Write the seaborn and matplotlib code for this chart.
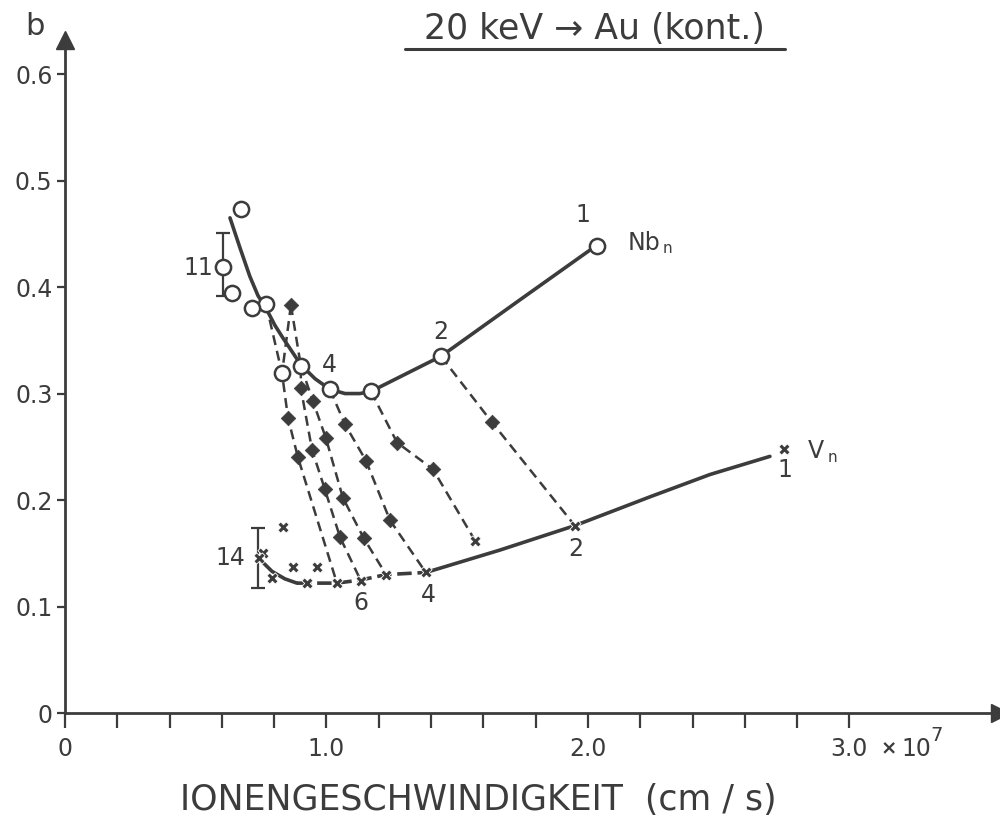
import numpy as np
import pandas as pd
import matplotlib
matplotlib.use("Agg")
import matplotlib.pyplot as plt
import seaborn as sns

# ---------------- data ----------------
# Nb_n open circles
nb_x = [2.034, 1.438, 1.170, 1.013, 0.902, 0.830, 0.769, 0.715, 0.639, 0.604, 0.673]
nb_y = [0.439, 0.335, 0.302, 0.304, 0.326, 0.319, 0.384, 0.380, 0.394, 0.419, 0.473]
# Nb_n smooth curve
nbc_x = [0.631, 0.669, 0.707, 0.738, 0.769, 0.803, 0.834, 0.864, 0.902, 0.956, 1.013,
         1.071, 1.128, 1.170, 1.300, 1.438, 1.740, 2.015]
nbc_y = [0.465, 0.437, 0.410, 0.392, 0.380, 0.364, 0.352, 0.341, 0.327, 0.314, 0.304,
         0.300, 0.300, 0.302, 0.318, 0.335, 0.388, 0.436]

# V_n crosses
v_x = [2.750, 1.950, 1.568, 1.380, 1.228, 1.132, 1.040, 0.925, 0.964, 0.872, 0.834, 0.792, 0.757, 0.742]
v_y = [0.248, 0.176, 0.162, 0.132, 0.130, 0.124, 0.122, 0.122, 0.137, 0.137, 0.175, 0.127, 0.150, 0.146]
# V_n curve pieces
vc1_x = [0.738, 0.792, 0.841, 0.887]
vc1_y = [0.146, 0.133, 0.126, 0.122]
vc2_x = [0.887, 1.040, 1.132, 1.228, 1.380]
vc2_y = [0.122, 0.122, 0.125, 0.130, 0.132]
vc3_x = [1.380, 1.663, 1.950, 2.237, 2.467, 2.696]
vc3_y = [0.132, 0.153, 0.176, 0.203, 0.224, 0.241]

# mixed clusters (diamonds)
mx_x = [0.864, 0.853, 0.891, 0.902, 0.945, 0.994, 1.052, 0.948, 0.998, 1.063, 1.143,
        1.071, 1.151, 1.243, 1.270, 1.407, 1.633]
mx_y = [0.383, 0.277, 0.240, 0.305, 0.247, 0.210, 0.165, 0.293, 0.258, 0.202, 0.164,
        0.271, 0.237, 0.181, 0.254, 0.229, 0.273]

# dashed connection lines
L0_x = [0.864, 0.830]; L0_y = [0.383, 0.319]
L1_x = [0.769, 0.830, 0.853, 0.891, 1.040]; L1_y = [0.384, 0.319, 0.277, 0.240, 0.122]
L2_x = [0.864, 0.902, 0.902, 0.945, 0.994, 1.052, 1.132]; L2_y = [0.383, 0.326, 0.305, 0.247, 0.210, 0.165, 0.124]
L3_x = [0.902, 0.948, 0.998, 1.063, 1.143, 1.228]; L3_y = [0.326, 0.293, 0.258, 0.202, 0.164, 0.130]
L4_x = [1.013, 1.071, 1.151, 1.243, 1.380]; L4_y = [0.304, 0.271, 0.237, 0.181, 0.132]
L5_x = [1.170, 1.270, 1.407, 1.568]; L5_y = [0.302, 0.254, 0.229, 0.162]
L6_x = [1.438, 1.633, 1.950]; L6_y = [0.335, 0.273, 0.176]

# error bars
err_nb = (0.604, 0.419, 0.392, 0.451)
err_v = (0.738, 0.146, 0.117, 0.174)

y_ticks = [0.0, 0.1, 0.2, 0.3, 0.4, 0.5, 0.6]
y_labels = ["0", "0.1", "0.2", "0.3", "0.4", "0.5", "0.6"]
x_ticks = [round(0.2 * i, 1) for i in range(16)]
x_labels = {0.0: "0", 1.0: "1.0", 2.0: "2.0", 3.0: "3.0"}

# ---------------- style ----------------
sns.set_theme(style="white")
FAM = ["DejaVu Sans"]
plt.rcParams["font.family"] = FAM
INK = "#3c3c3c"

fig = plt.figure(figsize=(10, 8.33), dpi=100)
ax = fig.add_axes([0.065, 0.144, 0.935, 0.808])
ax.set_xlim(0, 3.576)
ax.set_ylim(0, 0.632)
ax.set_facecolor("white")

for s in ["top", "right"]:
    ax.spines[s].set_visible(False)
for s in ["left", "bottom"]:
    ax.spines[s].set_color(INK)
    ax.spines[s].set_linewidth(2.0)

def line(xs, ys, dashes=None, lw=2.0):
    sns.lineplot(x=xs, y=ys, sort=False, estimator=None, color=INK, linewidth=lw, ax=ax)
    ln = ax.lines[-1]
    if dashes is not None:
        ln.set_dashes(dashes)
    ln.set_solid_capstyle("round")

# dashed connectors
for xs, ys in [(L0_x, L0_y), (L1_x, L1_y), (L2_x, L2_y), (L3_x, L3_y),
               (L4_x, L4_y), (L5_x, L5_y), (L6_x, L6_y)]:
    line(xs, ys, dashes=(4, 2.4), lw=1.8)

# main curves
line(nbc_x, nbc_y, lw=2.6)
line(vc1_x, vc1_y, lw=2.6)
line(vc2_x, vc2_y, dashes=(4, 1.6), lw=2.6)
line(vc3_x, vc3_y, lw=2.6)

# error bars
for (ex, ey, lo, hi) in [err_nb, err_v]:
    ax.errorbar([ex], [ey], yerr=[[ey - lo], [hi - ey]], fmt="none", ecolor=INK,
                elinewidth=1.6, capsize=5, capthick=1.6)

# markers
sns.scatterplot(x=mx_x, y=mx_y, marker="D", s=55, color=INK, edgecolor=INK, linewidth=0.5, ax=ax, zorder=5)
sns.scatterplot(x=v_x, y=v_y, marker="X", s=65, color=INK, edgecolor="white", linewidth=0.6, ax=ax, zorder=5)
sns.scatterplot(x=nb_x, y=nb_y, marker="o", s=120, facecolor="white", edgecolor=INK, linewidth=1.8, ax=ax, zorder=6)

# ticks
ax.set_xticks(x_ticks)
ax.set_xticklabels([x_labels.get(t, "") for t in x_ticks])
ax.set_yticks(y_ticks)
ax.set_yticklabels(y_labels)
ax.tick_params(axis="x", direction="out", length=11, width=1.6, color=INK, labelsize=17,
               labelcolor=INK, pad=6, bottom=True)
ax.tick_params(axis="y", direction="out", length=6, width=1.6, color=INK, labelsize=17,
               labelcolor=INK, pad=3, left=True)
ax.grid(False)

# axis arrows
ax.plot([1.0], [0], marker=">", markersize=13, color=INK, transform=ax.get_yaxis_transform(), clip_on=False)
ax.plot([0], [1.0], marker="^", markersize=13, color=INK, transform=ax.get_xaxis_transform(), clip_on=False)

# axis labels
ax.text(-0.115, 0.645, "b", fontsize=22, color=INK, ha="center", va="center", clip_on=False)
ax.text(3.15, -0.034, "×", fontsize=14, color=INK, ha="center", va="center", fontweight="bold", clip_on=False)
ax.text(3.20, -0.034, "10", fontsize=17, color=INK, ha="left", va="center", clip_on=False)
ax.text(3.31, -0.021, "7", fontsize=14, color=INK, ha="left", va="center", clip_on=False)
fig.text(0.478, 0.04, "IONENGESCHWINDIGKEIT  (cm / s)", fontsize=25, color=INK, ha="center", va="center")

# title with underline
ax.text(2.025, 0.642, "20 keV \u2192 Au (kont.)", fontsize=25, color=INK, ha="center", va="center", clip_on=False)
ax.plot([1.30, 2.755], [0.624, 0.624], color=INK, linewidth=2.2, clip_on=False)

# annotations
lab = dict(fontsize=17, color=INK, va="center")
ax.text(1.981, 0.468, "1", ha="center", **lab)
ax.text(2.153, 0.441, "Nb", ha="left", **lab)
ax.text(2.285, 0.436, "n", ha="left", fontsize=11, color=INK, va="center")
ax.text(1.438, 0.358, "2", ha="center", **lab)
ax.text(1.013, 0.327, "4", ha="center", **lab)
ax.text(0.566, 0.418, "11", ha="right", **lab)
ax.text(2.841, 0.246, "V", ha="left", **lab)
ax.text(2.915, 0.240, "n", ha="left", fontsize=11, color=INK, va="center")
ax.text(2.753, 0.228, "1", ha="center", **lab)
ax.text(1.954, 0.154, "2", ha="center", **lab)
ax.text(1.388, 0.111, "4", ha="center", **lab)
ax.text(1.132, 0.103, "6", ha="center", **lab)
ax.text(0.688, 0.146, "14", ha="right", **lab)

fig.savefig("out.png", dpi=100, facecolor="white")
